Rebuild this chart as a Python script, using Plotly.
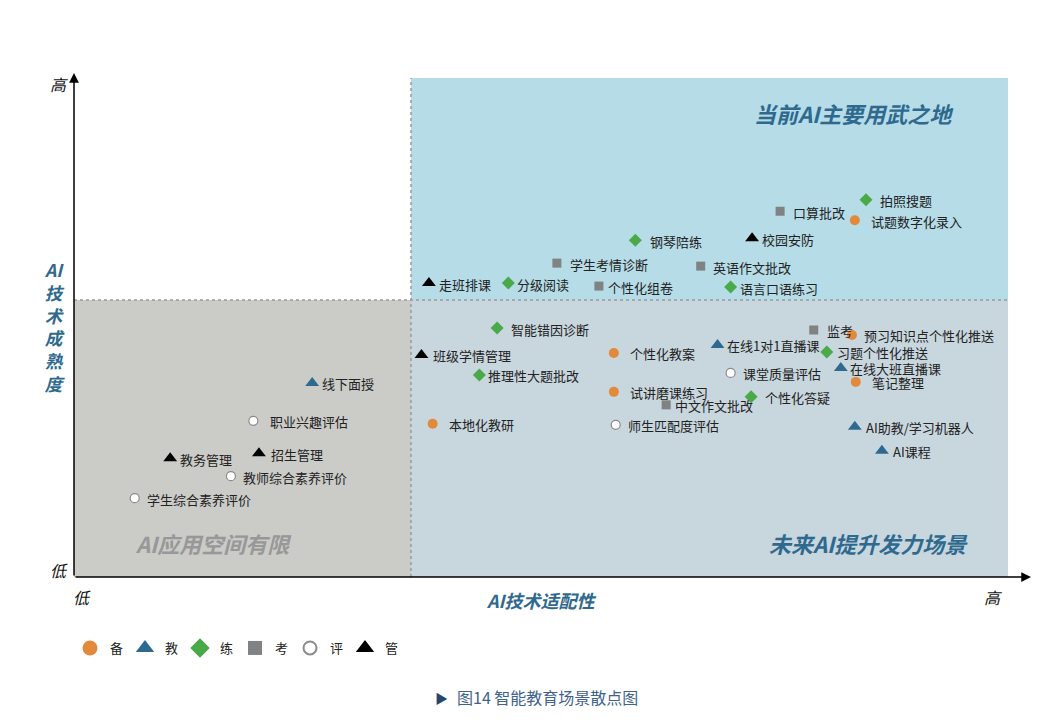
import plotly.graph_objects as go

# ---------------- data (0-100 scale on both axes) ----------------
names = ["拍照搜题", "口算批改", "试题数字化录入", "钢琴陪练", "校园安防", "学生考情诊断",
         "英语作文批改", "走班排课", "分级阅读", "个性化组卷", "语言口语练习",
         "智能错因诊断", "班级学情管理", "推理性大题批改", "个性化教案", "在线1对1直播课",
         "监考", "预习知识点个性化推送", "习题个性化推送", "课堂质量评估", "在线大班直播课",
         "笔记整理", "试讲磨课练习", "个性化答疑", "中文作文批改", "本地化教研",
         "师生匹配度评估", "AI助教/学习机器人", "AI课程",
         "线下面授", "职业兴趣评估", "教务管理", "招生管理", "教师综合素养评价", "学生综合素养评价"]
adapt = [84.8, 75.6, 83.6, 60.1, 72.6, 51.7,
         67.1, 38.0, 46.5, 56.2, 70.3,
         45.3, 37.2, 43.4, 57.8, 68.9,
         79.2, 83.3, 80.6, 70.3, 82.1,
         83.7, 57.8, 72.5, 63.4, 38.4,
         58.0, 83.6, 86.5,
         25.5, 19.2, 10.3, 19.8, 16.8, 6.5]
maturity = [75.6, 73.3, 71.5, 67.5, 67.9, 62.9,
            62.3, 58.9, 58.9, 58.3, 58.1,
            49.9, 44.5, 40.5, 44.9, 46.5,
            49.5, 48.5, 45.1, 40.9, 41.9,
            39.1, 37.1, 36.1, 34.5, 30.7,
            30.5, 30.1, 25.3,
            38.9, 31.3, 23.8, 24.8, 20.2, 15.8]
category = ["练", "考", "备", "练", "管", "考",
            "考", "管", "练", "考", "练",
            "练", "管", "练", "备", "教",
            "考", "备", "练", "评", "教",
            "备", "备", "练", "考", "备",
            "评", "教", "教",
            "教", "评", "管", "管", "评", "评"]
legend_order = ["备", "教", "练", "考", "评", "管"]

# ---------------- styles ----------------
label_gap = [12, 11, 14, 13, 8, 11,
             10, 8, 7, 7, 7,
             12, 10, 7, 14, 7,
             11, 10, 8, 10, 7,
             14, 14, 12, 7, 14,
             10, 9, 9,
             8, 15, 8, 10, 10, 10]
marker_style = {
    "备": dict(symbol="circle", color="#e3893a", size=10, line=dict(width=0)),
    "教": dict(symbol="triangle-up", color="#2e6a90", size=12, line=dict(width=0)),
    "练": dict(symbol="diamond", color="#4aaa4a", size=10, line=dict(width=0)),
    "考": dict(symbol="square", color="#808283", size=9, line=dict(width=0)),
    "评": dict(symbol="circle", color="#ffffff", size=9, line=dict(width=1.2, color="#8a8a8a")),
    "管": dict(symbol="triangle-up", color="#000000", size=12, line=dict(width=0)),
}
legend_style = {
    "备": dict(symbol="circle", color="#e3893a", size=15, line=dict(width=0)),
    "教": dict(symbol="triangle-up", color="#2e6a90", size=16, line=dict(width=0)),
    "练": dict(symbol="diamond", color="#4aaa4a", size=15, line=dict(width=0)),
    "考": dict(symbol="square", color="#808283", size=14, line=dict(width=0)),
    "评": dict(symbol="circle", color="#ffffff", size=13, line=dict(width=2, color="#8a8a8a")),
    "管": dict(symbol="triangle-up", color="#000000", size=16, line=dict(width=0)),
}

FONT = "Noto Sans CJK SC"
BLUE = "#2f6a8e"
XMID, YMID = 36.08, 55.5

fig = go.Figure()

# quadrant backgrounds
fig.add_shape(type="rect", x0=XMID, x1=100, y0=YMID, y1=100, fillcolor="#b5dce7", line_width=0, layer="below")
fig.add_shape(type="rect", x0=0, x1=XMID, y0=0, y1=YMID, fillcolor="#cbcbc7", line_width=0, layer="below")
fig.add_shape(type="rect", x0=XMID, x1=100, y0=0, y1=YMID, fillcolor="#c8d6de", line_width=0, layer="below")
# dotted dividers
fig.add_shape(type="line", x0=XMID, x1=XMID, y0=0, y1=100, line=dict(color="#9a9a9a", width=1.5, dash="dot"), layer="below")
fig.add_shape(type="line", x0=0, x1=100, y0=YMID, y1=YMID, line=dict(color="#9a9a9a", width=1.5, dash="dot"), layer="below")

for cat in legend_order:
    idx = [i for i, c in enumerate(category) if c == cat]
    fig.add_trace(go.Scatter(
        x=[adapt[i] for i in idx], y=[maturity[i] for i in idx],
        mode="markers", name=cat, marker=marker_style[cat], legendgroup=cat, showlegend=False,
        hovertext=[names[i] for i in idx], hoverinfo="text",
        cliponaxis=False,
    ))
    fig.add_trace(go.Scatter(
        x=[None], y=[None], mode="markers", name=cat, marker=legend_style[cat],
        legendgroup=cat, showlegend=True, hoverinfo="skip",
    ))

annotations = []
for n, xv, yv, g in zip(names, adapt, maturity, label_gap):
    annotations.append(dict(x=xv, y=yv, xref="x", yref="y", text=n, showarrow=False,
                            xanchor="left", yanchor="middle", xshift=g, yshift=-1,
                            font=dict(family=FONT, size=13, color="#222222")))

def pan(x, y, text, size, color, bold=True, italic=True, xanchor="center", yanchor="middle"):
    t = text
    if bold:
        t = "<b>" + t + "</b>"
    if italic:
        t = "<i>" + t + "</i>"
    return dict(x=x, y=y, xref="paper", yref="paper", text=t, showarrow=False,
                xanchor=xanchor, yanchor=yanchor,
                font=dict(family=FONT, size=size, color=color))

W0, W = 74, 934
H0, H = 577, 499
def px(p):
    return (p - W0) / W
def py(p):
    return (H0 - p) / H

# quadrant titles
annotations.append(pan(px(854), py(113), "当前AI主要用武之地", 22, BLUE))
annotations.append(pan(px(868), py(543), "未来AI提升发力场景", 22, BLUE))
annotations.append(pan(px(213), py(543), "AI应用空间有限", 22, "#989898"))
# axis titles
annotations.append(pan(px(541), py(600), "AI技术适配性", 18, BLUE))
annotations.append(pan(px(55), py(326), "AI<br>技<br>术<br>成<br>熟<br>度", 17.5, BLUE))
# tick labels
annotations.append(pan(px(59), py(84), "高", 16, "#111111", bold=False))
annotations.append(pan(px(59), py(570), "低", 16, "#111111", bold=False))
annotations.append(pan(px(82), py(597), "低", 16, "#111111", bold=False))
annotations.append(pan(px(993), py(597), "高", 16, "#111111", bold=False))
# axis arrows
annotations.append(dict(x=px(1031), y=0, xref="paper", yref="paper", ax=-(1031 - 74), ay=0,
                        axref="pixel", ayref="pixel", showarrow=True, arrowhead=2, arrowsize=1.3,
                        arrowwidth=1.5, arrowcolor="#000000", text=""))
annotations.append(dict(x=0, y=py(73), xref="paper", yref="paper", ax=0, ay=(577 - 73),
                        showarrow=True, arrowhead=2, arrowsize=1.3,
                        arrowwidth=1.5, arrowcolor="#000000", text=""))
# caption
annotations.append(dict(x=px(441), y=py(697), xref="paper", yref="paper", text="▶", showarrow=False,
                        xanchor="center", yanchor="middle", font=dict(family=FONT, size=13, color="#28466c")))
annotations.append(dict(x=px(455), y=py(697), xref="paper", yref="paper", text="图14 智能教育场景散点图",
                        showarrow=False, xanchor="left", yanchor="middle",
                        font=dict(family=FONT, size=16, color="#41628a")))

fig.update_layout(
    width=1056, height=726,
    margin=dict(l=74, r=48, t=78, b=149),
    paper_bgcolor="white", plot_bgcolor="white",
    xaxis=dict(range=[0, 100], showgrid=False, zeroline=False, showticklabels=False, showline=False, fixedrange=True),
    yaxis=dict(range=[0, 100], showgrid=False, zeroline=False, showticklabels=False, showline=False, fixedrange=True),
    annotations=annotations,
    showlegend=True,
    legend=dict(orientation="h", x=px(70), y=py(648), xanchor="left", yanchor="middle",
                font=dict(family=FONT, size=13, color="#222222"),
                entrywidth=10, entrywidthmode="pixels", itemwidth=30, bgcolor="rgba(0,0,0,0)"),
    font=dict(family=FONT),
)

fig.write_html("out.html")
